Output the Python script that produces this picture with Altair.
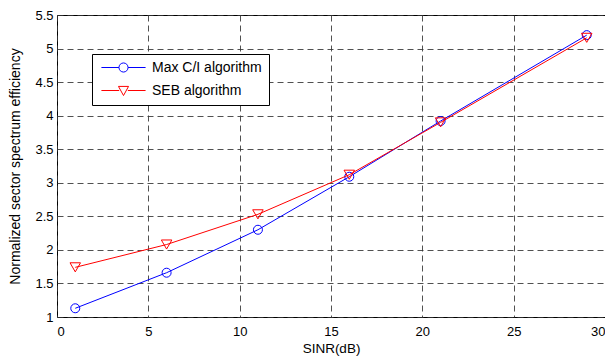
import altair as alt
import pandas as pd

sinr = [1, 6, 11, 16, 21, 29]
max_ci = [1.13, 1.66, 2.30, 3.09, 3.92, 5.20]
seb = [1.74, 2.08, 2.53, 3.12, 3.90, 5.16]
series_names = ["Max C/I algorithm", "SEB algorithm"]
x_ticks = [0, 5, 10, 15, 20, 25, 30]
y_ticks = [1, 1.5, 2, 2.5, 3, 3.5, 4, 4.5, 5, 5.5]

rows = []
for xv, a, b in zip(sinr, max_ci, seb):
    rows.append({"SINR": xv, "val": a, "series": series_names[0]})
    rows.append({"SINR": xv, "val": b, "series": series_names[1]})
df = pd.DataFrame(rows)

FONT = "Liberation Sans"
colors = ["#0000ff", "#ff0000"]

x = alt.X("SINR:Q", scale=alt.Scale(domain=[0, 30], nice=False),
          axis=alt.Axis(values=x_ticks, title="SINR(dB)", format="~g",
                        grid=True, gridDash=[6, 4], gridColor="#333333", gridOpacity=0.85,
                        tickSize=0, labelPadding=8, titlePadding=3, titleFontSize=13.5,
                        domain=False))
y = alt.Y("val:Q", scale=alt.Scale(domain=[1, 5.5], nice=False),
          axis=alt.Axis(values=y_ticks, title="Normalized sector spectrum efficiency",
                        format="~g", grid=True, gridDash=[6, 4], gridColor="#333333",
                        gridOpacity=0.85, tickSize=0, labelPadding=4, titlePadding=12,
                        titleFontSize=14, domain=False))

def series_layers(name, col, shape, size):
    base = alt.Chart(df).transform_filter(alt.datum.series == name)
    ln = base.mark_line(strokeWidth=1, color=col).encode(x=x, y=y)
    pt = base.mark_point(shape=shape, size=size, filled=False, strokeWidth=1,
                         color=col, opacity=1).encode(x=x, y=y)
    return [ln, pt]

circle_path = "M-0.92,0L-0.19,0M0.19,0L0.92,0M0.19,0A0.19,0.19,0,1,1,-0.19,0A0.19,0.19,0,1,1,0.19,0Z"
tri_path = "M-0.92,0L-0.18,0M0.18,0L0.92,0M-0.21,-0.17L0.21,-0.17L0,0.21Z"

leg = alt.Legend(title=None, orient="none", legendX=35, legendY=39,
                 fillColor="white", strokeColor="black",
                 padding=7, labelFont=FONT, labelFontSize=14,
                 labelColor="black", labelOffset=4,
                 symbolOpacity=1, symbolStrokeWidth=1,
                 symbolFillColor="transparent", rowPadding=8, clipHeight=13,
                 symbolSize=2304, cornerRadius=0)

legend_layer = alt.Chart(df).transform_filter(alt.datum.SINR < 0).mark_point(
    filled=False, strokeWidth=1, size=2304).encode(
    x=x, y=y,
    color=alt.Color("series:N", scale=alt.Scale(domain=series_names, range=colors), legend=leg),
    shape=alt.Shape("series:N", scale=alt.Scale(domain=series_names, range=[circle_path, tri_path]),
                    legend=leg),
)

layers = series_layers(series_names[0], colors[0], "circle", 81) + \
    series_layers(series_names[1], colors[1], "triangle-down", 110) + [legend_layer]

chart = alt.layer(*layers).properties(
    width=548, height=302,
    autosize=alt.AutoSizeParams(type="none"),
    padding={"left": 49, "top": 7, "right": 0, "bottom": 40},
    background="white",
).configure_view(stroke="black", strokeWidth=1).configure_axis(
    labelFont=FONT, labelFontSize=13, labelColor="black",
    titleFont=FONT, titleColor="black", titleFontWeight="normal",
)

chart.save("out.html", embed_options={"renderer": "svg", "actions": False})
